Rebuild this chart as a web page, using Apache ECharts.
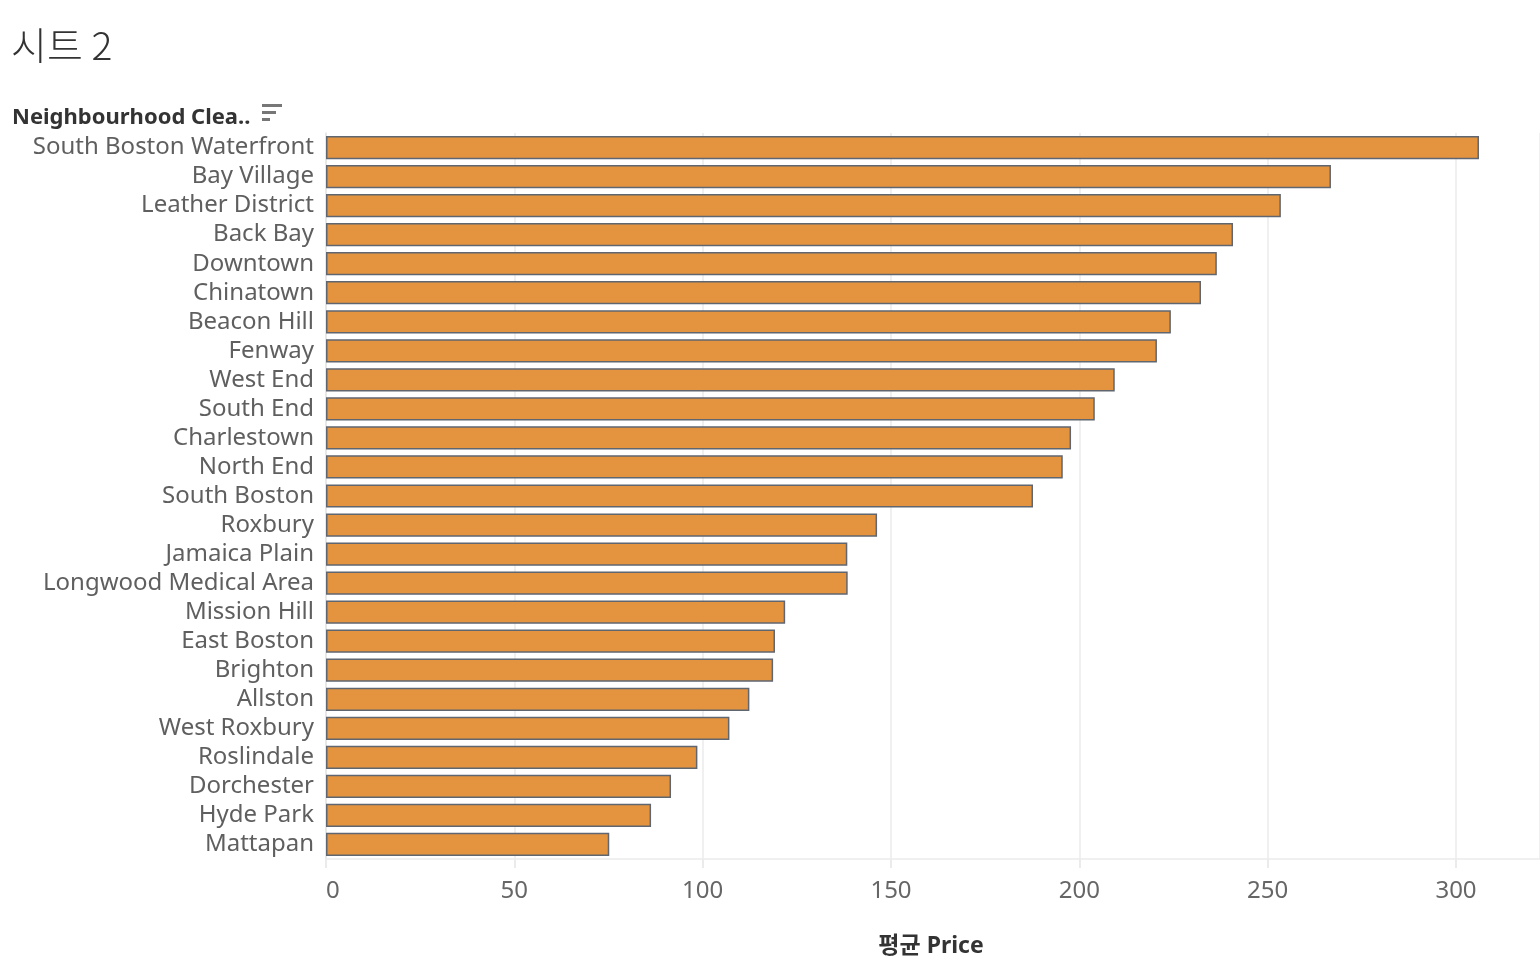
<!DOCTYPE html>
<html>
<head>
<meta charset="utf-8">
<script src="https://cdn.jsdelivr.net/npm/echarts@6/dist/echarts.min.js"></script>
<style>
html,body{margin:0;padding:0;background:#fff;}
#chart{width:1540px;height:968px;}
</style>
</head>
<body>
<div id="chart"></div>
<script>
const categories = [
  "South Boston Waterfront","Bay Village","Leather District","Back Bay","Downtown",
  "Chinatown","Beacon Hill","Fenway","West End","South End","Charlestown","North End",
  "South Boston","Roxbury","Jamaica Plain","Longwood Medical Area","Mission Hill",
  "East Boston","Brighton","Allston","West Roxbury","Roslindale","Dorchester",
  "Hyde Park","Mattapan"
];
const avgPrice = [
  306.1, 266.8, 253.5, 240.8, 236.5,
  232.3, 224.3, 220.6, 209.4, 204.1, 197.8, 195.6,
  187.7, 146.3, 138.4, 138.5, 121.9,
  119.2, 118.7, 112.4, 107.1, 98.6, 91.6,
  86.3, 75.2
];
const xTicks = [0, 50, 100, 150, 200, 250, 300];

const chart = echarts.init(document.getElementById('chart'));
const font = '"Noto Sans", "Noto Sans CJK KR", sans-serif';
chart.setOption({
  animation: false,
  backgroundColor: '#ffffff',
  title: {
    text: '시트 2',
    left: 6, top: 21,
    textStyle: { fontFamily: '"Noto Sans CJK KR", "Noto Sans", sans-serif', fontSize: 39, fontWeight: 300, color: '#333333' }
  },
  graphic: [
    { type: 'text', left: 12, top: 107,
      style: { text: 'Neighbourhood Clea..', fontFamily: font, fontSize: 22, fontWeight: 'bold', fill: '#333333' } },
    { type: 'rect', shape: { x: 262, y: 104, width: 20, height: 3 }, style: { fill: '#777777' } },
    { type: 'rect', shape: { x: 262, y: 111, width: 14, height: 3 }, style: { fill: '#777777' } },
    { type: 'rect', shape: { x: 262, y: 118, width: 8, height: 3 }, style: { fill: '#777777' } }
  ],
  grid: { left: 326, right: 0, top: 133, bottom: 109, containLabel: false },
  xAxis: {
    type: 'value',
    min: 0, max: 322.3, interval: 50,
    name: '평균 Price',
    nameLocation: 'middle',
    nameGap: 76,
    nameTextStyle: { fontFamily: font, fontSize: 23, fontWeight: 'bold', color: '#333333', padding: [0, 4, 0, 0] },
    axisLine: { show: true, lineStyle: { color: '#ebebeb', width: 1.5 } },
    axisTick: { show: true, length: 9, lineStyle: { color: '#ebebeb', width: 2 } },
    splitLine: { show: true, lineStyle: { color: '#f0f0f0', width: 2 } },
    axisLabel: {
      show: true, margin: 20, fontFamily: font, fontSize: 24, color: '#666666',
      showMaxLabel: false, alignMinLabel: 'left',
      formatter: function (v) { return xTicks.indexOf(v) >= 0 ? String(v) : ''; }
    }
  },
  yAxis: {
    type: 'category',
    data: categories,
    inverse: true,
    axisLine: { show: true, lineStyle: { color: '#e6e6e6', width: 1.5 } },
    axisTick: { show: false },
    splitLine: { show: false },
    axisLabel: { interval: 0, fontFamily: font, fontSize: 24, color: '#5f5f5f', margin: 12, padding: [5, 0, 0, 0] }
  },
  series: [{
    type: 'bar',
    data: avgPrice,
    barCategoryGap: '20%',
    itemStyle: { color: '#E4943F', borderColor: '#5F6670', borderWidth: 1.5 }
  }]
});
</script>
</body>
</html>
